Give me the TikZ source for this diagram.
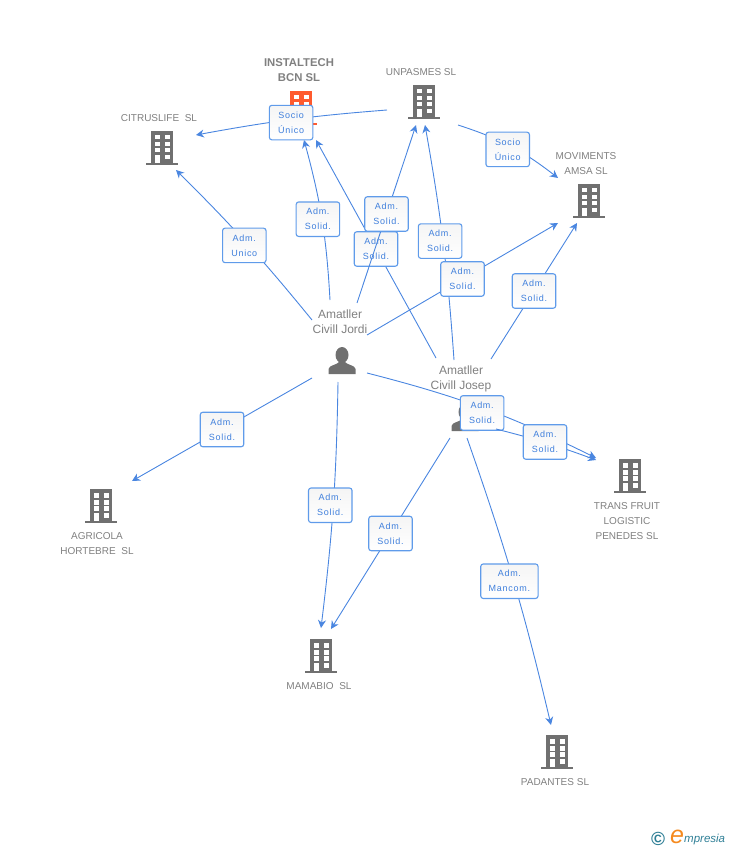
\documentclass[tikz,border=0pt]{standalone}
\usepackage{fontspec}
\setmainfont{Liberation Sans}
\newfontfamily\lablefont[LetterSpace=8]{Liberation Sans}
\usetikzlibrary{arrows.meta}
\definecolor{linkblue}{HTML}{4A86E0}
\definecolor{boxblue}{HTML}{5F9BEA}
\definecolor{textblue}{HTML}{3F7FDC}
\definecolor{namegrey}{HTML}{808080}
\definecolor{icongrey}{HTML}{707070}
\definecolor{iconorange}{HTML}{FF5A2E}
\definecolor{logoteal}{HTML}{2F7F96}
\definecolor{logoorange}{HTML}{F58A1F}
\tikzset{
    link/.style={draw=linkblue, line width=0.9pt, -{Stealth[length=8pt,width=8pt]}},
    lab/.style={draw=boxblue, line width=1.1pt, rounded corners=2.5pt, top color=black!4, bottom color=white,
        minimum width=43.5pt, minimum height=34.5pt, inner ysep=0pt, inner xsep=8pt, align=center, text=textblue,
        font=\lablefont\fontsize{9}{15}\selectfont},
    compname/.style={text=namegrey, align=center, inner sep=0pt, font=\fontsize{10}{15}\selectfont},
    boldname/.style={text=namegrey, align=center, inner sep=0pt, font=\bfseries\fontsize{11.3}{15}\selectfont},
    personname/.style={text=namegrey, align=center, inner sep=0pt, font=\fontsize{12}{15}\selectfont},
    pics/building/.style={code={
        \fill[#1] (5,0) rectangle (27,32);
        \fill[#1] (0,32) rectangle (32,34);
        \foreach \wy in {4,11,17} {
            \fill[white] (9,\wy) rectangle (14,\wy+4.5);
            \fill[white] (19,\wy) rectangle (23.5,\wy+4.5);
        }
        \fill[white] (9,24) rectangle (14,32);
        \fill[white] (19,24) rectangle (23.5,28.5);
    }},
    pics/personicon/.style={code={
        \fill[icongrey] (0,-7) ellipse (6.5 and 8);
        \fill[icongrey] (-13.5,12) -- (-13.5,7) .. controls (-13,3) and (-5,3) .. (-3,0)
            -- (3,0) .. controls (5,3) and (13,3) .. (13.5,7) -- (13.5,12) -- cycle;
    }}
}
\begin{document}
\begin{tikzpicture}[x=1pt,y=-1pt]
    \useasboundingbox (0,0) rectangle (728,850);

    \pic at (146,131) {building=icongrey};
    \pic at (285,91) {building=iconorange};
    \pic at (408,85) {building=icongrey};
    \pic at (573,184) {building=icongrey};
    \pic at (614,459) {building=icongrey};
    \pic at (85,489) {building=icongrey};
    \pic at (305,639) {building=icongrey};
    \pic at (541,735) {building=icongrey};
    \pic at (342,362) {personicon};
    \pic at (465,419) {personicon};

    \node[compname] (citruslife) at (159,118) {CITRUSLIFE\ \ SL};
    \node[boldname] (instaltech) at (299,70) {INSTALTECH\\BCN SL};
    \node[compname] (unpasmes) at (421,72) {UNPASMES SL};
    \node[compname] (moviments) at (586,163.5) {MOVIMENTS\\AMSA SL};
    \node[compname] (transfruit) at (627,521) {TRANS FRUIT\\LOGISTIC\\PENEDES SL};
    \node[compname] (agricola) at (97,544) {AGRICOLA\\HORTEBRE\ \ SL};
    \node[compname] (mamabio) at (319,686) {MAMABIO\ \ SL};
    \node[compname] (padantes) at (555,782) {PADANTES SL};
    \node[personname] (jordi) at (340,321.5) {Amatller\\Civill Jordi};
    \node[personname] (josep) at (461,378.5) {Amatller\\Civill Josep};

    \coordinate (jordiA) at (312,320);
    \coordinate (jordiB) at (330,300);
    \coordinate (jordiC) at (357,303);
    \coordinate (jordiD) at (367,335);
    \coordinate (jordiE) at (312,378);
    \coordinate (jordiF) at (338,382);
    \coordinate (jordiG) at (367,373);
    \coordinate (josepA) at (436,358);
    \coordinate (josepB) at (454,360);
    \coordinate (josepC) at (491,359);
    \coordinate (josepD) at (450,438);
    \coordinate (josepE) at (467,438);
    \coordinate (josepF) at (496,429);
    \coordinate (unpasmesA) at (387,110);
    \coordinate (unpasmesB) at (458,125);

    \coordinate (citruslifeA) at (176,170);
    \coordinate (citruslifeB) at (196,135);
    \coordinate (instaltechA) at (304,140);
    \coordinate (instaltechB) at (316,140);
    \coordinate (unpasmesC) at (416,125);
    \coordinate (unpasmesD) at (425,125);
    \coordinate (movimentsA) at (558,178);
    \coordinate (movimentsB) at (558,223);
    \coordinate (movimentsC) at (577,223);
    \coordinate (transfruitA) at (596,458);
    \coordinate (transfruitB) at (596,460);
    \coordinate (agricolaA) at (132,481);
    \coordinate (mamabioA) at (321,628);
    \coordinate (mamabioB) at (331,629);
    \coordinate (padantesA) at (551,725);

    \draw[link] (jordiA) to[bend right=3] node[lab,xshift=-2pt,yshift=-2.5pt] (admA) {Adm.\\Unico} (citruslifeA);
    \draw[link] (jordiB) to[bend right=6] node[lab,xshift=-4pt] (admB) {Adm.\\Solid.} (instaltechA);
    \draw[link] (josepA) to node[lab] (admC) {Adm.\\Solid.} (instaltechB);
    \draw[link] (jordiC) to node[lab] (admD) {Adm.\\Solid.} (unpasmesC);
    \draw[link] (josepB) to[bend right=3] node[lab,xshift=-3pt,yshift=1pt] (admE) {Adm.\\Solid.} (unpasmesD);
    \draw[link] (jordiD) to node[lab] (admF) {Adm.\\Solid.} (movimentsB);
    \draw[link] (josepC) to node[lab] (admG) {Adm.\\Solid.} (movimentsC);
    \draw[link] (jordiE) to node[lab] (admH) {Adm.\\Solid.} (agricolaA);
    \draw[link] (jordiF) to[bend left=3] node[lab,xshift=-3pt] (admI) {Adm.\\Solid.} (mamabioA);
    \draw[link] (josepD) to node[lab] (admJ) {Adm.\\Solid.} (mamabioB);
    \draw[link] (josepE) to[bend left=3] node[lab,xshift=-4pt,yshift=-1pt] (admK) {Adm.\\Mancom.} (padantesA);
    \draw[link] (jordiG) to[bend left=6] node[lab,xshift=-2pt,yshift=-4.5pt] (admM) {Adm.\\Solid.} (transfruitA);
    \draw[link] (josepF) to[bend left=3] node[lab,xshift=-1.5pt,yshift=1pt] (admL) {Adm.\\Solid.} (transfruitB);
    \draw[link] (unpasmesA) to[bend right=3] node[lab,yshift=-3pt] (socioA) {Socio\\Único} (citruslifeB);
    \draw[link] (unpasmesB) to[bend left=10] node[lab,xshift=-3pt,yshift=-3pt] (socioB) {Socio\\Único} (movimentsA);

    \node[text=logoteal, inner sep=0pt, font=\bfseries\fontsize{19}{19}\selectfont] (logoc) at (658,839) {©};
    \node[text=logoorange, inner sep=0pt, font=\itshape\fontsize{25}{25}\selectfont] (logoe) at (677,837) {e};
    \node[text=logoteal, inner sep=0pt, anchor=west, font=\itshape\fontsize{11.5}{12}\selectfont] (logotext) at (684,840) {mpresia};
\end{tikzpicture}
\end{document}
